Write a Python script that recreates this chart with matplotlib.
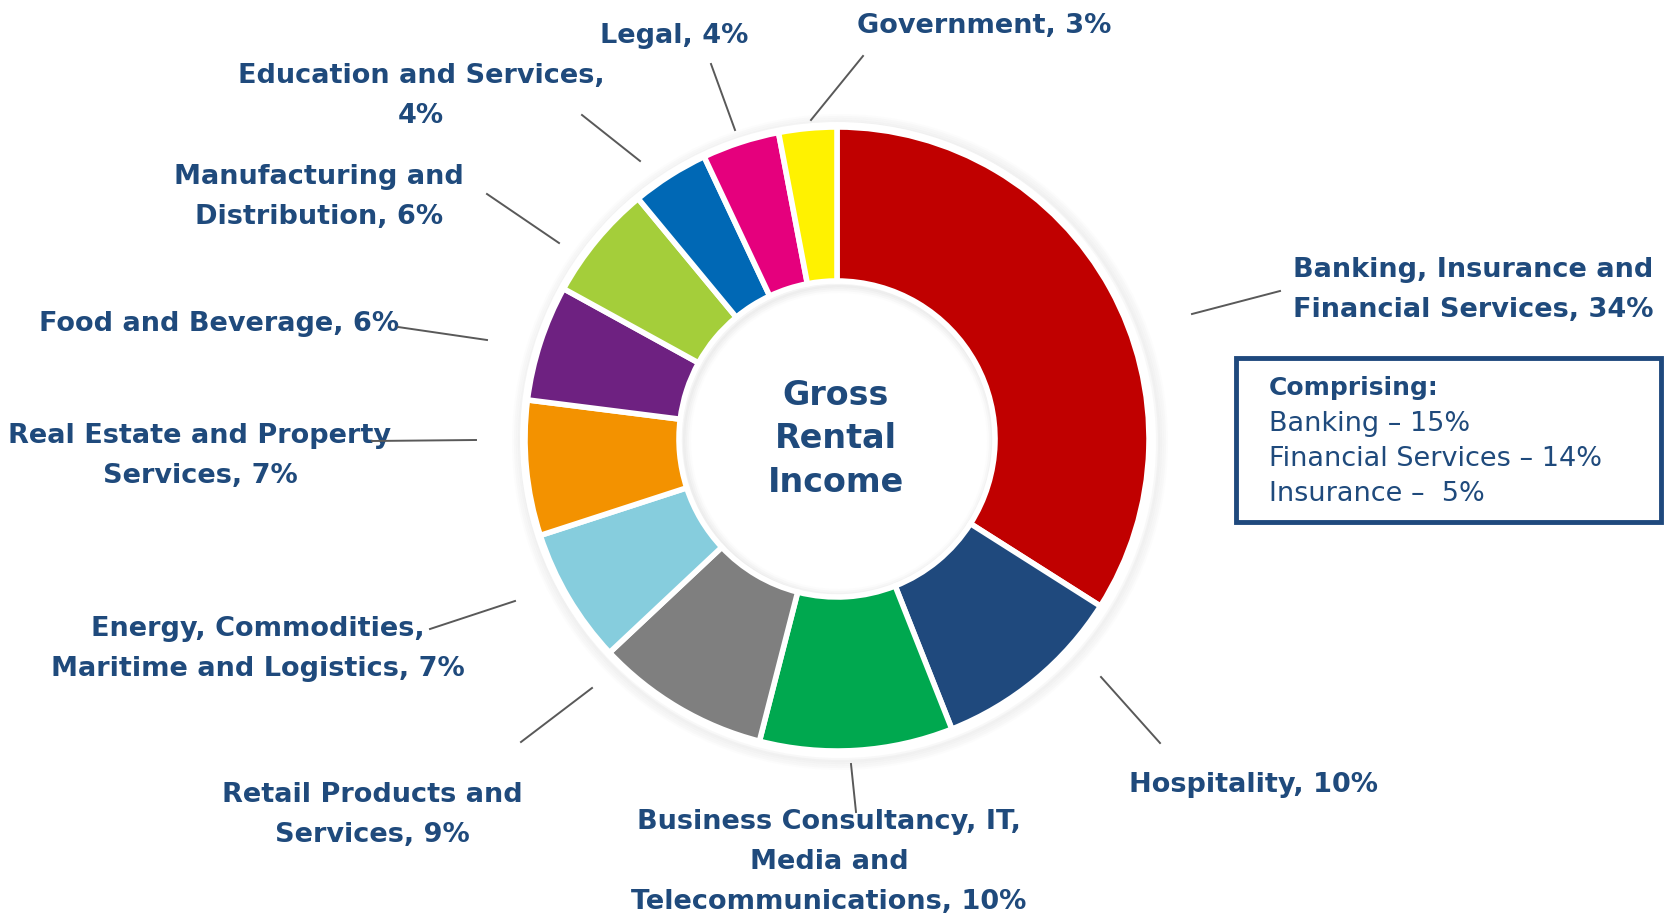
import matplotlib
matplotlib.use("Agg")
import matplotlib.pyplot as plt
from matplotlib.patches import Rectangle, Circle

# ---- data ----
categories = [
    "Banking, Insurance and\nFinancial Services, 34%",
    "Hospitality, 10%",
    "Business Consultancy, IT,\nMedia and\nTelecommunications, 10%",
    "Retail Products and\nServices, 9%",
    "Energy, Commodities,\nMaritime and Logistics, 7%",
    "Real Estate and Property\nServices, 7%",
    "Food and Beverage, 6%",
    "Manufacturing and\nDistribution, 6%",
    "Education and Services,\n4%",
    "Legal, 4%",
    "Government, 3%",
]
values = [34, 10, 10, 9, 7, 7, 6, 6, 4, 4, 3]
colors = ["#C00000", "#1F497D", "#00A84F", "#7F7F7F", "#86CDDD", "#F39200",
          "#6E2181", "#A4CE3A", "#0068B5", "#E5007D", "#FFF200"]
breakdown_title = "Comprising:"
breakdown = ["Banking \u2013 15%", "Financial Services \u2013 14%", "Insurance \u2013  5%"]
center_text = "Gross\nRental\nIncome"

# ---- layout (pixel coordinates, y measured from top) ----
W, H = 1666, 916
cx, cy = 837, 439
R = 312
width = 154

label_pos = [(1473, 290), (1254, 785), (829, 862), (372, 815), (258, 649),
             (200, 456), (219, 324), (319, 197), (421, 96), (674, 36), (984, 26)]
leader = [((1192, 314), (1280, 291)), ((1101, 677), (1160, 743)),
          ((851, 764), (856, 812)), ((521, 742), (592, 688)),
          ((430, 629), (515, 601)), ((372, 441), (476, 440)),
          ((398, 327), (487, 340)), ((487, 194), (559, 243)),
          ((582, 115), (640, 161)), ((711, 64), (735, 130)),
          ((863, 56), (811, 120))]

TXT = "#1F4A7C"
FONT = "DejaVu Sans"

fig = plt.figure(figsize=(W / 100, H / 100), dpi=100)
ax = fig.add_axes([0, 0, 1, 1])

def Y(y):
    return H - y

# soft shadow
for i, a in enumerate([0.05, 0.05, 0.04, 0.03, 0.02]):
    ax.add_patch(Circle((cx + 3, Y(cy) - 3), R + 6 + i * 2, facecolor="none",
                        edgecolor="#808080", lw=3, alpha=a, zorder=0))
ax.add_patch(Circle((cx, Y(cy)), R + 5, facecolor="white", edgecolor="none", zorder=0.5))
for i, a in enumerate([0.08, 0.06, 0.04, 0.02]):
    ax.add_patch(Circle((cx + 2, Y(cy) - 2), R - width - 2 - i * 2, facecolor="none",
                        edgecolor="#808080", lw=3, alpha=a, zorder=0.6))

ax.pie(values, colors=colors, startangle=90, counterclock=False, radius=R,
       center=(cx, Y(cy)),
       wedgeprops=dict(width=width, edgecolor="white", linewidth=4))

for lab, (x, y) in zip(categories, label_pos):
    ax.text(x, Y(y), lab, ha="center", va="center", fontsize=19.5, fontweight="bold",
            color=TXT, family=FONT, linespacing=1.68)

for (p0, p1) in leader:
    ax.plot([p0[0], p1[0]], [Y(p0[1]), Y(p1[1])], color="#595959", lw=1.4, zorder=5)

ax.text(cx - 1, Y(cy), center_text, ha="center", va="center", fontsize=24,
        fontweight="bold", color=TXT, family=FONT, linespacing=1.42)

# breakdown box
ax.add_patch(Rectangle((1236, Y(522)), 425, 164, facecolor="white",
                       edgecolor="#1F497D", lw=3.5, zorder=4))
ax.text(1269, Y(388), breakdown_title, ha="left", va="center", fontsize=18,
        fontweight="bold", color=TXT, family=FONT, zorder=5)
for i, s in enumerate(breakdown):
    ax.text(1269, Y(424 + 35 * i), s, ha="left", va="center", fontsize=19.5,
            fontweight="normal", color=TXT, family=FONT, zorder=5)

ax.set_xlim(0, W)
ax.set_ylim(0, H)
ax.set_aspect("equal")
ax.axis("off")
fig.savefig("out.png", dpi=100, facecolor="white")
